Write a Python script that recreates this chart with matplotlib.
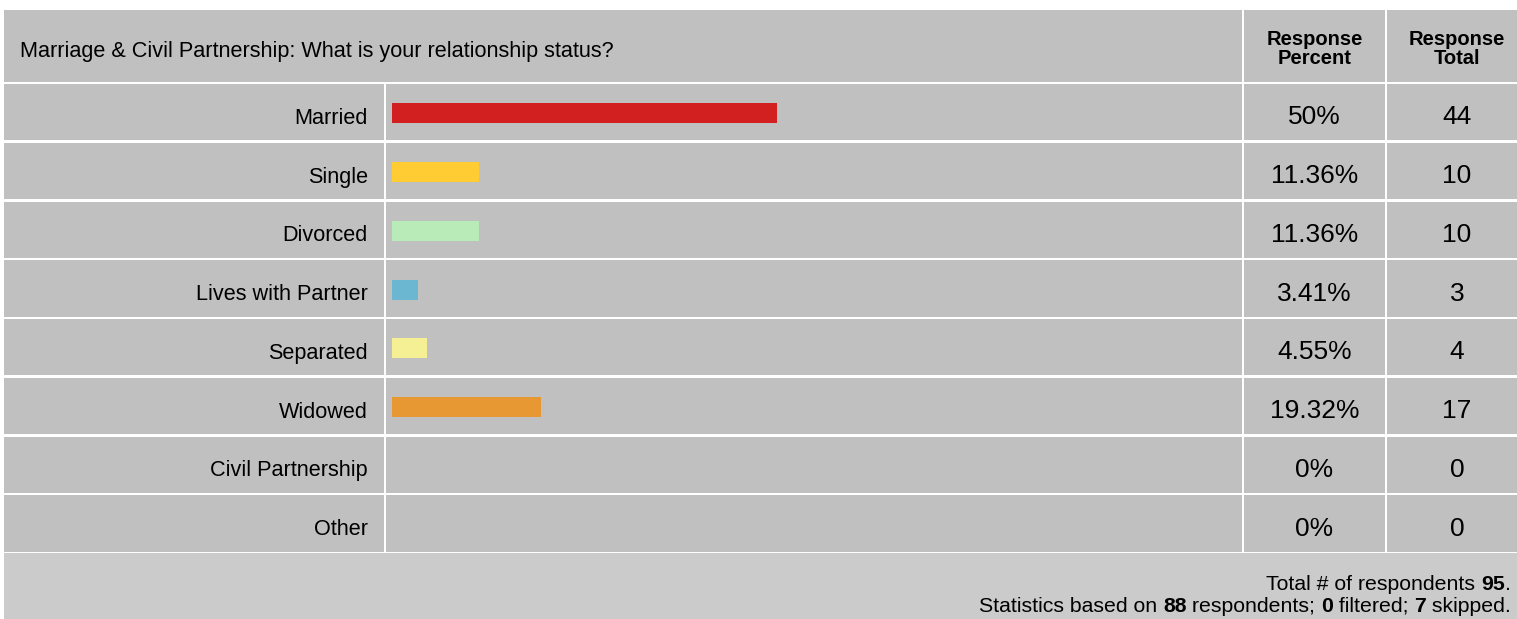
import matplotlib
matplotlib.use("Agg")
import matplotlib.pyplot as plt
from matplotlib.patches import Rectangle

plt.rcParams['font.family'] = ['Liberation Sans', 'DejaVu Sans']

title = "Marriage & Civil Partnership: What is your relationship status?"
categories = ["Married", "Single", "Divorced", "Lives with Partner",
              "Separated", "Widowed", "Civil Partnership", "Other"]
percents = [50, 11.36, 11.36, 3.41, 4.55, 19.32, 0, 0]
totals = [44, 10, 10, 3, 4, 17, 0, 0]
colors = ["#d21f1f", "#ffcc33", "#b8ebb8", "#6bb6d0",
          "#f5f093", "#e89833", "#c0c0c0", "#c0c0c0"]
total_respondents = 95
based_on = 88
filtered = 0
skipped = 7

W, H = 1517, 619
grey = "#c0c0c0"
foot_grey = "#cbcbcb"

fig = plt.figure(figsize=(W / 100, H / 100), dpi=100)
ax = fig.add_axes([0, 0, 1, 1])
ax.set_xlim(0, W)
ax.set_ylim(H, 0)
ax.axis("off")

# table layout (pixels)
x_left, x_sep1, x_sep2, x_sep3, x_right = 4, 385, 1243, 1386, W
gap = 2.5
head_top, head_bot = 10, 81.5
row_top0, row_h = 84, 58.75
n = len(categories)

def cell(x0, x1, y0, y1, c=grey):
    ax.add_patch(Rectangle((x0, y0), x1 - x0, y1 - y0, facecolor=c,
                           edgecolor="none"))

# header
cell(x_left, x_sep2 - gap / 2, head_top, head_bot)
cell(x_sep2 + gap / 2, x_sep3 - gap / 2, head_top, head_bot)
cell(x_sep3 + gap / 2, x_right, head_top, head_bot)
ax.text(20, 52, title, fontsize=15.6, ha="left", va="center")
ax.text((x_sep2 + x_sep3) / 2, 49, "Response\nPercent", fontsize=14.5,
        fontweight="bold", ha="center", va="center", linespacing=1.0)
ax.text(1457, 49, "Response\nTotal", fontsize=14.5,
        fontweight="bold", ha="center", va="center", linespacing=1.0)

# body rows
for i, (cat, p, t) in enumerate(zip(categories, percents, totals)):
    y0 = row_top0 + i * row_h
    y1 = y0 + row_h - gap
    cell(x_left, x_sep1 - gap / 2, y0, y1)
    cell(x_sep1 + gap / 2, x_sep2 - gap / 2, y0, y1)
    cell(x_sep2 + gap / 2, x_sep3 - gap / 2, y0, y1)
    cell(x_sep3 + gap / 2, x_right, y0, y1)
    yc = y0 + row_h / 2 + 5
    ax.text(368, yc, cat, fontsize=15.6, ha="right", va="center")
    ax.text((x_sep2 + x_sep3) / 2, yc - 1, f"{p:g}%", fontsize=19,
            ha="center", va="center")
    ax.text(1457, yc - 1, str(t), fontsize=19, ha="center", va="center")

# footer
foot_top = row_top0 + n * row_h - gap / 2
cell(x_left, x_right, foot_top, H, foot_grey)

# bars on their own axes: 0-100 % over 770 px
bar_x0, bar_w = 392, 770
bax = fig.add_axes([bar_x0 / W, 1 - (row_top0 + n * row_h) / H,
                    bar_w / W, n * row_h / H])
bax.set_xlim(0, 100)
bax.set_ylim(n - 0.5, -0.5)
bax.axis("off")
bax.barh(range(n), percents, height=20 / row_h, color=colors,
         edgecolor="none")

# footer text with bold numbers, right aligned
fig.canvas.draw()
renderer = fig.canvas.get_renderer()

def right_line(y, parts):
    x = 1511
    for txt, bold in reversed(parts):
        t = ax.text(x, y, txt, fontsize=15.3, ha="right", va="center",
                    fontweight="bold" if bold else "normal")
        bb = t.get_window_extent(renderer=renderer)
        x -= bb.width

right_line(584, [("Total # of respondents ", False),
                 (str(total_respondents), True), (".", False)])
right_line(606, [("Statistics based on ", False), (str(based_on), True),
                 (" respondents; ", False), (str(filtered), True),
                 (" filtered; ", False), (str(skipped), True),
                 (" skipped.", False)])

fig.savefig("out.png", dpi=100, facecolor="white")
